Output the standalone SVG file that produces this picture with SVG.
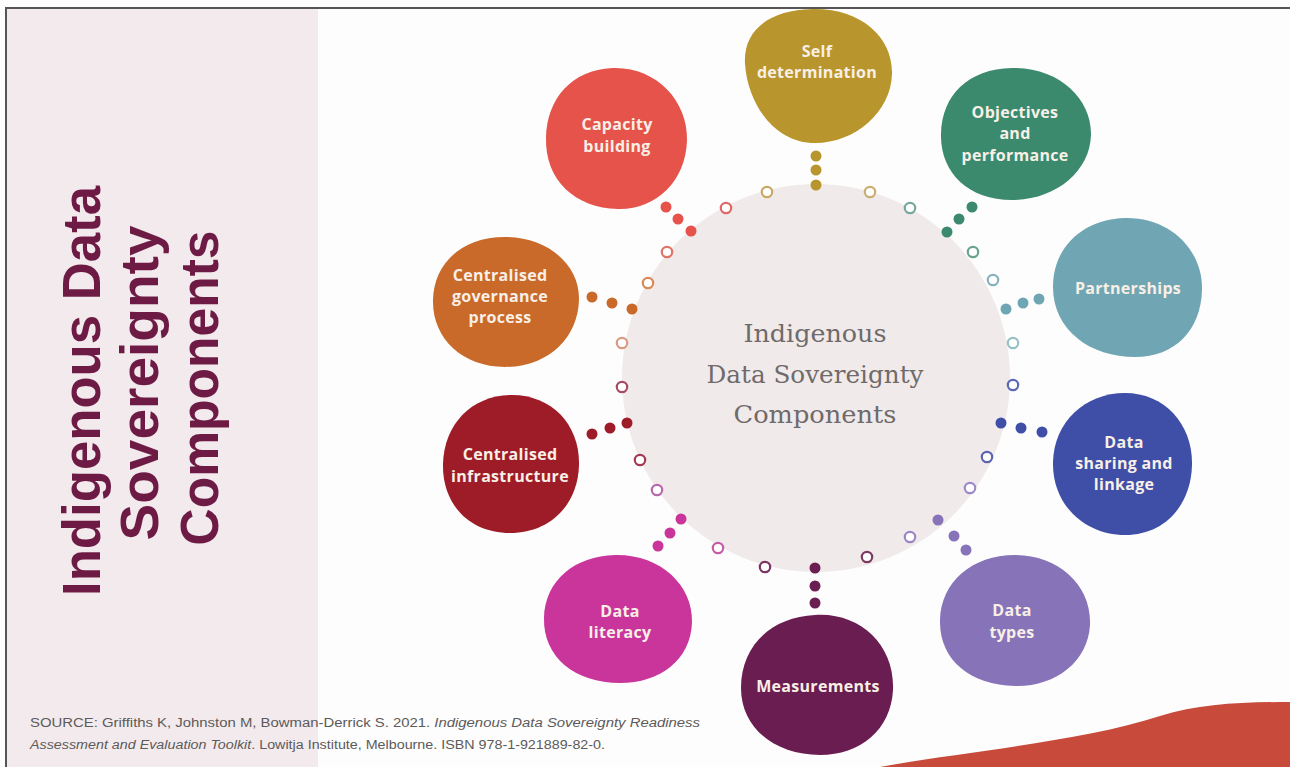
<svg xmlns="http://www.w3.org/2000/svg" width="1290" height="767" viewBox="0 0 1290 767">
  <style>
    .lbl { font-family: "Open Sans", "Liberation Sans", sans-serif; font-weight: 700; font-size: 16px; fill: #f8efe6; text-anchor: middle; letter-spacing: 0.3px; }
    .hub { font-family: "DejaVu Serif", "Liberation Serif", serif; font-size: 24px; fill: #6f6a6b; text-anchor: middle; }
    .title { font-family: "Liberation Sans", Arial, sans-serif; font-weight: 700; font-size: 53px; fill: #6d1b45; text-anchor: middle; }
    .src { font-family: "Liberation Sans", Arial, sans-serif; font-size: 12.5px; fill: #5c5a5a; }
    .ring { fill: #ffffff; stroke-width: 2.2; }
  </style>

  <!-- page -->
  <rect x="0" y="0" width="1290" height="767" fill="#fdfdfd"/>
  <rect x="7" y="9" width="311" height="758" fill="#f3eaed"/>
  <path d="M 880 767 C 960 752, 1080 742, 1160 716 C 1200 704, 1240 702, 1290 702 L 1290 767 Z" fill="#c84a3b"/>

  <!-- side title -->
  <g id="title">
    <text class="title" transform="translate(100,391) rotate(-90)" textLength="410" lengthAdjust="spacingAndGlyphs">Indigenous Data</text>
    <text class="title" transform="translate(158,383) rotate(-90)" textLength="315" lengthAdjust="spacingAndGlyphs">Sovereignty</text>
    <text class="title" transform="translate(218,388) rotate(-90)" textLength="315" lengthAdjust="spacingAndGlyphs">Components</text>
  </g>

  <!-- central hub -->
  <g id="hub">
    <circle cx="816" cy="378" r="194" fill="#f1eaea"/>
    <text class="hub" x="815" y="342" textLength="143" lengthAdjust="spacingAndGlyphs">Indigenous</text>
    <text class="hub" x="815" y="383" textLength="217" lengthAdjust="spacingAndGlyphs">Data Sovereignty</text>
    <text class="hub" x="815" y="423" textLength="163" lengthAdjust="spacingAndGlyphs">Components</text>
  </g>

  <!-- connectors: dotted ring and three-dot links -->
  <g id="connectors">
    <g class="ring">
      <circle cx="767" cy="192" r="5.2" stroke="#c9a862"/>
      <circle cx="870" cy="192" r="5.2" stroke="#c8ae72"/>
      <circle cx="726" cy="208" r="5.2" stroke="#e0676a"/>
      <circle cx="910" cy="208" r="5.2" stroke="#76a89c"/>
      <circle cx="667" cy="252" r="5.2" stroke="#e07468"/>
      <circle cx="973" cy="252" r="5.2" stroke="#6aa390"/>
      <circle cx="648" cy="283" r="5.2" stroke="#d98a56"/>
      <circle cx="993" cy="280" r="5.2" stroke="#86b3bc"/>
      <circle cx="622" cy="343" r="5.2" stroke="#d99a82"/>
      <circle cx="1013" cy="343" r="5.2" stroke="#98c1c7"/>
      <circle cx="622" cy="387" r="5.2" stroke="#a44c64"/>
      <circle cx="1013" cy="385" r="5.2" stroke="#5a68b6"/>
      <circle cx="640" cy="460" r="5.2" stroke="#a53b52"/>
      <circle cx="987" cy="457" r="5.2" stroke="#5c63b0"/>
      <circle cx="657" cy="490" r="5.2" stroke="#b76aab"/>
      <circle cx="970" cy="488" r="5.2" stroke="#9c8ac8"/>
      <circle cx="718" cy="548" r="5.2" stroke="#c65ca6"/>
      <circle cx="910" cy="537" r="5.2" stroke="#9a86c6"/>
      <circle cx="765" cy="567" r="5.2" stroke="#7c3262"/>
      <circle cx="867" cy="557" r="5.2" stroke="#7c3a62"/>
    </g>
    <g fill="#b8962e">
      <circle cx="816" cy="185" r="5.5"/><circle cx="816" cy="170" r="5.5"/><circle cx="816" cy="156" r="5.5"/>
    </g>
    <g fill="#e5534b">
      <circle cx="691" cy="231" r="5.5"/><circle cx="678" cy="219" r="5.5"/><circle cx="666" cy="207" r="5.5"/>
    </g>
    <g fill="#3b8a6e">
      <circle cx="947" cy="232" r="5.5"/><circle cx="959" cy="219" r="5.5"/><circle cx="972" cy="207" r="5.5"/>
    </g>
    <g fill="#6fa6b4">
      <circle cx="1006" cy="309" r="5.5"/><circle cx="1023" cy="303" r="5.5"/><circle cx="1039" cy="299" r="5.5"/>
    </g>
    <g fill="#3f4fa8">
      <circle cx="1001" cy="423" r="5.5"/><circle cx="1021" cy="428" r="5.5"/><circle cx="1042" cy="432" r="5.5"/>
    </g>
    <g fill="#8773b8">
      <circle cx="938" cy="520" r="5.5"/><circle cx="954" cy="536" r="5.5"/><circle cx="966" cy="550" r="5.5"/>
    </g>
    <g fill="#6b1e52">
      <circle cx="815" cy="568" r="5.5"/><circle cx="815" cy="586" r="5.5"/><circle cx="815" cy="603" r="5.5"/>
    </g>
    <g fill="#c9359b">
      <circle cx="681" cy="519" r="5.5"/><circle cx="670" cy="533" r="5.5"/><circle cx="658" cy="546" r="5.5"/>
    </g>
    <g fill="#9e1c27">
      <circle cx="627" cy="423" r="5.5"/><circle cx="610" cy="428" r="5.5"/><circle cx="592" cy="434" r="5.5"/>
    </g>
    <g fill="#c96a2b">
      <circle cx="632" cy="309" r="5.5"/><circle cx="612" cy="303" r="5.5"/><circle cx="592" cy="297" r="5.5"/>
    </g>
  </g>

  <!-- component nodes -->
  <g id="self-determination">
    <path d="M 812 9 C 862 8, 893 38, 892 74 C 891 112, 855 143, 815 143 C 776 143, 748 106, 745 64 C 743 28, 772 10, 812 9 Z" fill="#b8962d"/>
    <text class="lbl" x="817" y="57">Self</text>
    <text class="lbl" x="817" y="78">determination</text>
  </g>
  <g id="capacity-building">
    <path d="M 612 68 C 655 66, 688 100, 687 140 C 686 182, 655 210, 618 209 C 575 208, 545 180, 546 138 C 547 98, 572 70, 612 68 Z" fill="#e5534b"/>
    <text class="lbl" x="617" y="130">Capacity</text>
    <text class="lbl" x="617" y="152">building</text>
  </g>
  <g id="objectives-performance">
    <path d="M 1012 68 C 1060 67, 1092 100, 1091 135 C 1090 172, 1055 200, 1012 200 C 968 200, 940 172, 941 134 C 942 95, 968 69, 1012 68 Z" fill="#3b8a6e"/>
    <text class="lbl" x="1015" y="118">Objectives</text>
    <text class="lbl" x="1015" y="139">and</text>
    <text class="lbl" x="1015" y="161">performance</text>
  </g>
  <g id="partnerships">
    <path d="M 1125 218 C 1170 217, 1203 250, 1202 290 C 1201 330, 1175 357, 1135 357 C 1090 357, 1052 330, 1053 285 C 1054 245, 1085 219, 1125 218 Z" fill="#70a6b4"/>
    <text class="lbl" x="1128" y="294">Partnerships</text>
  </g>
  <g id="data-sharing-linkage">
    <path d="M 1125 393 C 1165 393, 1193 425, 1192 465 C 1191 505, 1165 535, 1125 535 C 1085 535, 1052 505, 1053 462 C 1054 422, 1085 393, 1125 393 Z" fill="#3f4ea6"/>
    <text class="lbl" x="1124" y="448">Data</text>
    <text class="lbl" x="1124" y="469">sharing and</text>
    <text class="lbl" x="1124" y="490">linkage</text>
  </g>
  <g id="data-types">
    <path d="M 1015 555 C 1058 555, 1092 585, 1090 625 C 1088 662, 1055 687, 1015 686 C 970 685, 939 660, 940 620 C 941 582, 972 555, 1015 555 Z" fill="#8773b8"/>
    <text class="lbl" x="1012" y="616">Data</text>
    <text class="lbl" x="1012" y="638">types</text>
  </g>
  <g id="measurements">
    <path d="M 815 615 C 860 612, 895 645, 893 690 C 891 730, 860 755, 820 755 C 775 755, 741 728, 741 688 C 741 645, 772 617, 815 615 Z" fill="#6a1d50"/>
    <text class="lbl" x="818" y="692">Measurements</text>
  </g>
  <g id="data-literacy">
    <path d="M 615 555 C 660 554, 693 585, 692 622 C 691 660, 660 683, 620 683 C 575 683, 543 657, 544 618 C 545 580, 575 556, 615 555 Z" fill="#c9359b"/>
    <text class="lbl" x="620" y="617">Data</text>
    <text class="lbl" x="620" y="638">literacy</text>
  </g>
  <g id="centralised-infrastructure">
    <path d="M 512 395 C 552 395, 580 425, 579 465 C 578 505, 550 533, 510 533 C 470 533, 442 505, 443 464 C 444 424, 472 395, 512 395 Z" fill="#9e1c27"/>
    <text class="lbl" x="510" y="460">Centralised</text>
    <text class="lbl" x="510" y="482">infrastructure</text>
  </g>
  <g id="centralised-governance">
    <path d="M 505 237 C 548 237, 580 265, 579 300 C 578 338, 548 367, 505 367 C 462 367, 432 338, 433 300 C 434 263, 462 237, 505 237 Z" fill="#c96a2b"/>
    <text class="lbl" x="500" y="281">Centralised</text>
    <text class="lbl" x="500" y="302">governance</text>
    <text class="lbl" x="500" y="323">process</text>
  </g>

  <!-- source note -->
  <g id="source">
    <text class="src" x="30" y="727" textLength="670" lengthAdjust="spacingAndGlyphs">SOURCE: Griffiths K, Johnston M, Bowman-Derrick S. 2021. <tspan font-style="italic">Indigenous Data Sovereignty Readiness</tspan></text>
    <text class="src" x="30" y="749" textLength="575" lengthAdjust="spacingAndGlyphs"><tspan font-style="italic">Assessment and Evaluation Toolkit</tspan>. Lowitja Institute, Melbourne. ISBN 978-1-921889-82-0.</text>
  </g>

  <!-- frame -->
  <path d="M 6 767 L 6 8 L 1290 8" fill="none" stroke="#555555" stroke-width="2"/>
</svg>
